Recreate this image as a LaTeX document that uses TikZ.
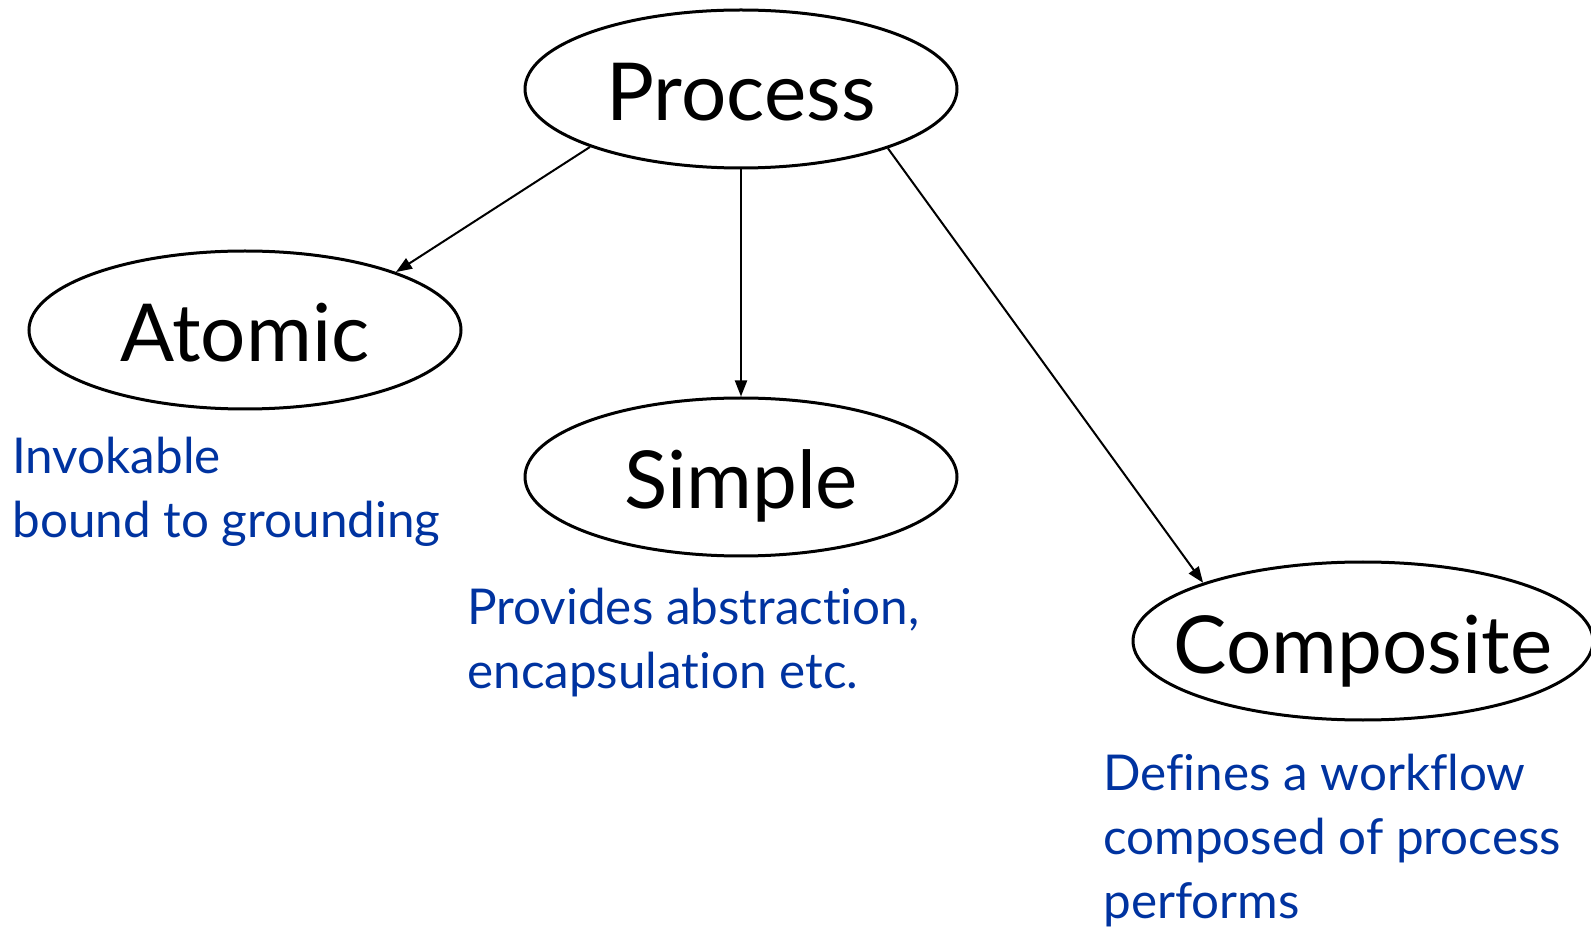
\documentclass[tikz,border=0pt]{standalone}
\usepackage{fontspec}
\setmainfont{Lato}[RawFeature={-liga;-dlig;-calt}]
\usetikzlibrary{shapes.geometric,arrows.meta}
\definecolor{noteblue}{HTML}{0033A0}
% oval label: no size of its own, baseline set below the oval's centre
\newcommand{\ovaltext}[1]{\makebox[0pt][c]{\smash{\raisebox{-16pt}{#1}}}}
\begin{document}
\begin{tikzpicture}[x=0.5pt,y=-0.5pt,
  proc/.style={ellipse,draw,line width=1.5pt,inner sep=0pt,
    minimum width=216pt,minimum height=79pt,font=\fontsize{40}{48}\selectfont},
  link/.style={line width=1pt,-{Triangle[length=8pt,width=6pt]}},
  note/.style={anchor=base west,align=left,inner sep=0pt,text=noteblue,
    font=\fontsize{24.7}{32}\selectfont}]
\useasboundingbox (0,0) rectangle (1591,930);
\node[proc] (p) at (741,89) {\ovaltext{Process}};
\node[proc] (a) at (245,330) {\ovaltext{Atomic}};
\node[proc] (s) at (741,477) {\ovaltext{Simple}};
\node[proc,minimum width=230pt] (c) at (1363,641) {\ovaltext{Composite}};
\draw[link] (p.201) -- (a.21);
\draw[link] (p.south) -- (s.north);
\draw[link] (p.338) -- (c.160);
\node[note] (na) at (12,538) {Invokable\\bound to grounding};
\node[note] (ns) at (467,688) {Provides abstraction,\\encapsulation etc.};
\node[note] (nc) at (1103,918) {Defines a workflow\\composed of process\\performs};
\end{tikzpicture}
\end{document}
